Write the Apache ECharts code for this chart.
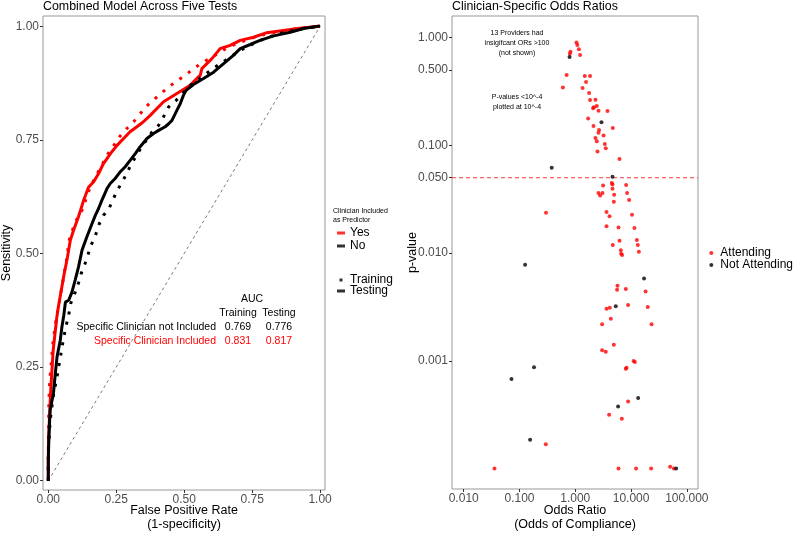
<!DOCTYPE html>
<html>
<head>
<meta charset="utf-8">
<script src="https://cdn.jsdelivr.net/npm/echarts@6/dist/echarts.min.js"></script>
<style>
html,body{margin:0;padding:0;background:#fff;}
#chart{width:799px;height:534px;}
</style>
</head>
<body>
<div id="chart"></div>
<script>
// ---------- Left panel: ROC curves ----------
const yesTestFPR = [0,0,0.001,0.004,0.006,0.009,0.014,0.018,0.024,0.031,0.038,0.046,0.059,0.070,0.081,0.093,0.111,0.130,0.148,0.167,0.185,0.203,0.216,0.234,0.253,0.277,0.301,0.326,0.350,0.375,0.424,0.473,0.522,0.551,0.559,0.565,0.602,0.632,0.669,0.706,0.755,0.804,0.865,0.926,0.994,1];
const yesTestTPR = [0,0.046,0.090,0.134,0.162,0.2,0.248,0.287,0.32,0.358,0.386,0.413,0.457,0.49,0.529,0.551,0.581,0.617,0.646,0.658,0.676,0.698,0.709,0.724,0.738,0.753,0.768,0.779,0.790,0.804,0.834,0.852,0.870,0.888,0.892,0.907,0.929,0.951,0.958,0.969,0.976,0.986,0.991,0.996,1.0,1];

const yesTrainFPR = [0,0,0.001,0.002,0.004,0.007,0.012,0.015,0.020,0.026,0.031,0.039,0.046,0.053,0.059,0.066,0.077,0.099,0.124,0.154,0.185,0.216,0.240,0.262,0.289,0.314,0.336,0.359,0.387,0.418,0.446,0.477,0.507,0.538,0.569,0.602,0.662,0.706,0.779,0.853,0.926,0.994,1];
const yesTrainTPR = [0,0.066,0.116,0.166,0.204,0.233,0.265,0.292,0.318,0.342,0.364,0.386,0.413,0.437,0.459,0.481,0.530,0.569,0.595,0.646,0.681,0.716,0.737,0.757,0.775,0.790,0.806,0.823,0.838,0.854,0.868,0.881,0.894,0.908,0.921,0.932,0.954,0.965,0.980,0.989,0.996,1.0,1];

const noTestFPR = [0,0,0.002,0.005,0.007,0.019,0.026,0.032,0.044,0.050,0.057,0.063,0.075,0.087,0.099,0.111,0.124,0.142,0.161,0.173,0.185,0.197,0.216,0.228,0.246,0.265,0.283,0.301,0.320,0.338,0.363,0.387,0.406,0.430,0.442,0.455,0.473,0.485,0.497,0.507,0.534,0.571,0.608,0.645,0.681,0.706,0.743,0.779,0.829,0.890,0.939,0.994,1];
const noTestTPR = [0,0.046,0.090,0.134,0.156,0.193,0.237,0.272,0.309,0.338,0.364,0.393,0.397,0.415,0.442,0.470,0.507,0.537,0.566,0.584,0.599,0.617,0.643,0.654,0.665,0.680,0.691,0.705,0.720,0.735,0.753,0.764,0.771,0.779,0.785,0.793,0.815,0.829,0.848,0.859,0.872,0.885,0.899,0.918,0.936,0.951,0.960,0.969,0.979,0.987,0.995,1.0,1];

const noTrainFPR = [0,0,0.001,0.004,0.007,0.013,0.019,0.026,0.032,0.038,0.044,0.050,0.057,0.066,0.075,0.083,0.099,0.111,0.121,0.136,0.148,0.158,0.173,0.188,0.203,0.222,0.237,0.252,0.271,0.287,0.301,0.327,0.357,0.381,0.406,0.424,0.442,0.469,0.522,0.559,0.608,0.651,0.706,0.779,0.853,0.926,0.994,1];
const noTrainTPR = [0,0.046,0.075,0.105,0.133,0.162,0.188,0.210,0.228,0.250,0.270,0.292,0.316,0.342,0.365,0.391,0.415,0.435,0.456,0.479,0.501,0.519,0.539,0.566,0.584,0.597,0.617,0.637,0.657,0.674,0.692,0.719,0.746,0.767,0.782,0.801,0.822,0.836,0.870,0.886,0.908,0.925,0.947,0.969,0.985,0.994,1.0,1];

const chanceFPR = [0, 1];
const chanceTPR = [0, 1];

const rocTicks = [0, 0.25, 0.5, 0.75, 1];
const aucHeader = ['AUC', 'Training', 'Testing'];
const aucRowLabels = ['Specific Clinician not Included', 'Specific Clinician Included'];
const aucTraining = ['0.769', '0.831'];
const aucTesting = ['0.776', '0.817'];

// ---------- Right panel: clinician odds ratios ----------
const attendingOR = [1.05,1.09,1.16,0.82,0.80,1.22,
  0.70,1.48,1.84,1.56,0.60,1.35,1.77,1.84,2.30,2.43,2.15,2.09,2.61,3.78,1.70,
  4.71,2.12,2.67,2.61,3.21,2.30,2.43,3.38,3.52,2.50,6.21,
  4.52,4.65,3.15,8.15,4.65,2.61,3.08,2.79,8.49,4.97,4.91,9.23,
  0.299,3.63,4.11,10.4,3.63,5.96,11.5,6.21,12.7,4.71,13.2,6.55,6.64,6.91,13.8,
  5.71,5.62,8.05,18.2,3.63,4.16,8.85,19.9,4.34,3.03,23.3,4.91,3.03,3.52,11.1,11.7,8.05,8.28,
  8.85,4.04,6.83,0.296,
  0.0356,5.96,12.3,22.9,50.1,58.5];
const attendingP = [0.90,0.855,0.78,0.74,0.706,0.69,
  0.45,0.44,0.44,0.386,0.344,0.34,0.305,0.263,0.264,0.232,0.226,0.221,0.209,0.208,0.177,
  0.145,0.151,0.139,0.131,0.123,0.117,0.109,0.103,0.094,0.0876,0.0745,
  0.0446,0.0433,0.0424,0.0428,0.0395,0.036,0.036,0.0342,0.036,0.0347,0.0299,0.031,
  0.0236,0.024,0.022,0.0227,0.0177,0.0173,0.0171,0.013,0.0132,0.0119,0.0119,0.0106,0.00986,0.00958,0.0103,
  0.00498,0.00457,0.00464,0.0044,0.00304,0.00311,0.0033,0.00316,0.00246,0.00218,0.00218,0.00141,0.00125,0.00121,0.000995,0.000975,0.000845,0.000863,
  0.00042,0.000316,0.00029,0.000168,
  0.0001,0.0001,0.0001,0.0001,0.000104,0.0001];

const notAttendingOR = [0.79,2.95,0.378,4.65,0.126,17.1,5.32,0.182,0.0718,13.4,5.86,0.155,64.3];
const notAttendingP = [0.66,0.164,0.0618,0.051,0.00779,0.0058,0.0032,0.000869,0.000678,0.000452,0.000377,0.000185,0.0001];

const orTicks = [0.01, 0.1, 1, 10, 100];
const pTicks = [1, 0.5, 0.1, 0.05, 0.01, 0.001];
const pThreshold = 0.05;

// ---------- build ----------
const zip = (a, b) => a.map((v, i) => [v, b[i]]);
const lg = v => Math.log10(v);
const zipLog = (a, b) => a.map((v, i) => [lg(v), lg(b[i])]);

const OR_AXIS_MIN = -2.21, OR_AXIS_MAX = 2.2;   // log10 extent of the odds-ratio axis
const P_AXIS_MIN = -4.19, P_AXIS_MAX = 0.2;     // log10 extent of the p-value axis

const FONT = '"Liberation Sans", Arial, sans-serif';
const RED = '#FF0000';
const BLACK = '#000000';
const THRESH = '#F23A3A';
const AXIS_LABEL = {fontSize: 12, color: '#4d4d4d', fontFamily: FONT};
const TICK = {length: 3, lineStyle: {color: '#333', width: 1}};
const NAME_STYLE = {fontSize: 12.5, color: '#000', fontFamily: FONT, lineHeight: 14};

const chart = echarts.init(document.getElementById('chart'), null, {renderer: 'canvas'});

const option = {
  backgroundColor: '#fff',
  animation: false,
  textStyle: {fontFamily: FONT},
  title: [
    {text: 'Combined Model Across Five Tests', left: 43, top: 1, padding: 0,
     textStyle: {fontSize: 12.4, fontWeight: 'normal', color: '#000', fontFamily: FONT}},
    {text: 'Clinician-Specific Odds Ratios', left: 452, top: 1, padding: 0,
     textStyle: {fontSize: 12.4, fontWeight: 'normal', color: '#000', fontFamily: FONT}}
  ],
  grid: [
    {left: 43, top: 16, width: 282, height: 474, show: true, borderColor: '#999', borderWidth: 1, outerBoundsMode: 'none', containLabel: false},
    {left: 452, top: 16, width: 246, height: 473, show: true, borderColor: '#999', borderWidth: 1, outerBoundsMode: 'none', containLabel: false}
  ],
  xAxis: [
    {gridIndex: 0, type: 'value', min: -0.0195, max: 1.018,
     axisLine: {show: false, onZero: false}, splitLine: {show: false},
     axisTick: Object.assign({customValues: rocTicks}, TICK),
     axisLabel: Object.assign({customValues: rocTicks, margin: 4, formatter: v => v.toFixed(2)}, AXIS_LABEL),
     name: 'False Positive Rate\n(1-specificity)', nameLocation: 'middle', nameGap: 14, nameMoveOverlap: false, nameTextStyle: NAME_STYLE},
    {gridIndex: 1, type: 'value', min: OR_AXIS_MIN, max: OR_AXIS_MAX,
     axisLine: {show: false, onZero: false}, splitLine: {show: false},
     axisTick: Object.assign({customValues: orTicks.map(lg)}, TICK),
     axisLabel: Object.assign({customValues: orTicks.map(lg), margin: 4, formatter: v => Math.pow(10, v).toFixed(3)}, AXIS_LABEL),
     name: 'Odds Ratio\n(Odds of Compliance)', nameLocation: 'middle', nameGap: 15, nameMoveOverlap: false, nameTextStyle: NAME_STYLE}
  ],
  yAxis: [
    {gridIndex: 0, type: 'value', min: -0.0205, max: 1.0227,
     axisLine: {show: false, onZero: false}, splitLine: {show: false},
     axisTick: Object.assign({customValues: rocTicks}, TICK),
     axisLabel: Object.assign({customValues: rocTicks, margin: 4, formatter: v => v.toFixed(2)}, AXIS_LABEL),
     name: 'Sensitivity', nameLocation: 'middle', nameGap: 29, nameMoveOverlap: false, nameTextStyle: NAME_STYLE},
    {gridIndex: 1, type: 'value', min: P_AXIS_MIN, max: P_AXIS_MAX,
     axisLine: {show: false, onZero: false}, splitLine: {show: false},
     axisTick: Object.assign({customValues: pTicks.map(lg)}, TICK),
     axisLabel: Object.assign({customValues: pTicks.map(lg), margin: 4, formatter: v => Math.pow(10, v).toFixed(3)}, AXIS_LABEL),
     name: 'p-value', nameLocation: 'middle', nameGap: 32, nameMoveOverlap: false, nameTextStyle: NAME_STYLE}
  ],
  legend: [
    {data: ['Yes', 'No'], orient: 'vertical', left: 337, top: 227, padding: 0, itemGap: 1,
     icon: 'rect', itemWidth: 8, itemHeight: 3, selectedMode: false,
     textStyle: {fontSize: 12, color: '#000', fontFamily: FONT}},
    {data: [{name: 'Training', icon: 'path://M0,0h1v1h-1z'}, {name: 'Testing', icon: 'rect'}],
     orient: 'vertical', left: 337, top: 274, padding: 0, itemGap: -1,
     itemWidth: 8, itemHeight: 3, selectedMode: false,
     textStyle: {fontSize: 12, color: '#000', fontFamily: FONT}},
    {data: ['Attending', 'Not Attending'], orient: 'vertical', left: 709.3, top: 247, padding: 0, itemGap: 0,
     icon: 'circle', itemWidth: 8, itemHeight: 4, selectedMode: false,
     textStyle: {fontSize: 12, color: '#000', fontFamily: FONT}}
  ],
  graphic: [
    {type: 'text', left: 333, top: 207, style: {text: 'Clinician Included\nas Predictor', font: '7px ' + FONT, fill: '#000', lineHeight: 9}},
    // AUC table
    {type: 'text', x: 252, y: 299, style: {text: aucHeader[0], font: '10.5px ' + FONT, fill: '#000', align: 'center', verticalAlign: 'middle'}},
    {type: 'text', x: 238, y: 313, style: {text: aucHeader[1], font: '10.5px ' + FONT, fill: '#000', align: 'center', verticalAlign: 'middle'}},
    {type: 'text', x: 279, y: 313, style: {text: aucHeader[2], font: '10.5px ' + FONT, fill: '#000', align: 'center', verticalAlign: 'middle'}},
    {type: 'text', x: 216, y: 327, style: {text: aucRowLabels[0], font: '10.5px ' + FONT, fill: '#000', align: 'right', verticalAlign: 'middle'}},
    {type: 'text', x: 238, y: 327, style: {text: aucTraining[0], font: '10.5px ' + FONT, fill: '#000', align: 'center', verticalAlign: 'middle'}},
    {type: 'text', x: 279, y: 327, style: {text: aucTesting[0], font: '10.5px ' + FONT, fill: '#000', align: 'center', verticalAlign: 'middle'}},
    {type: 'text', x: 216, y: 341, style: {text: aucRowLabels[1], font: '10.5px ' + FONT, fill: RED, align: 'right', verticalAlign: 'middle'}},
    {type: 'text', x: 238, y: 341, style: {text: aucTraining[1], font: '10.5px ' + FONT, fill: RED, align: 'center', verticalAlign: 'middle'}},
    {type: 'text', x: 279, y: 341, style: {text: aucTesting[1], font: '10.5px ' + FONT, fill: RED, align: 'center', verticalAlign: 'middle'}},
    // right annotations
    {type: 'text', x: 517, y: 43, style: {text: '13 Providers had\ninsigifcant ORs >100\n(not shown)', font: '7px ' + FONT, fill: '#000', align: 'center', verticalAlign: 'middle', lineHeight: 9.7}},
    {type: 'text', x: 517, y: 102, style: {text: 'P-values <10^-4\nplotted at 10^-4', font: '7px ' + FONT, fill: '#000', align: 'center', verticalAlign: 'middle', lineHeight: 10}}
  ],
  series: [
    {type: 'line', name: 'chance', xAxisIndex: 0, yAxisIndex: 0, data: zip(chanceFPR, chanceTPR),
     showSymbol: false, silent: true, lineStyle: {color: '#444', width: 0.7, type: [3, 3]}, z: 1},
    {type: 'line', name: 'Yes Testing', xAxisIndex: 0, yAxisIndex: 0, data: zip(yesTestFPR, yesTestTPR),
     showSymbol: false, lineStyle: {color: RED, width: 3}, z: 2},
    {type: 'line', name: 'Yes Training', xAxisIndex: 0, yAxisIndex: 0, data: zip(yesTrainFPR, yesTrainTPR),
     showSymbol: false, lineStyle: {color: RED, width: 3, type: [3, 7.5], cap: 'butt'}, z: 3},
    {type: 'line', name: 'No Testing', xAxisIndex: 0, yAxisIndex: 0, data: zip(noTestFPR, noTestTPR),
     showSymbol: false, lineStyle: {color: BLACK, width: 3}, z: 4},
    {type: 'line', name: 'No Training', xAxisIndex: 0, yAxisIndex: 0, data: zip(noTrainFPR, noTrainTPR),
     showSymbol: false, lineStyle: {color: BLACK, width: 3, type: [3, 7.5], cap: 'butt'}, z: 5},
    // legend-only series
    {type: 'scatter', name: 'Yes', xAxisIndex: 0, yAxisIndex: 0, data: [], itemStyle: {color: RED}},
    {type: 'scatter', name: 'No', xAxisIndex: 0, yAxisIndex: 0, data: [], itemStyle: {color: BLACK}},
    {type: 'scatter', name: 'Training', xAxisIndex: 0, yAxisIndex: 0, data: [], itemStyle: {color: BLACK}},
    {type: 'scatter', name: 'Testing', xAxisIndex: 0, yAxisIndex: 0, data: [], itemStyle: {color: BLACK}},
    // right panel: p = 0.05 reference line across the panel
    {type: 'line', name: 'threshold', xAxisIndex: 1, yAxisIndex: 1,
     data: [[OR_AXIS_MIN, lg(pThreshold)], [OR_AXIS_MAX, lg(pThreshold)]],
     showSymbol: false, silent: true, lineStyle: {color: THRESH, width: 1.1, type: [4, 3]}, z: 1},
    {type: 'scatter', name: 'Attending', xAxisIndex: 1, yAxisIndex: 1, data: zipLog(attendingOR, attendingP),
     symbolSize: 4, itemStyle: {color: RED}, z: 3},
    {type: 'scatter', name: 'Not Attending', xAxisIndex: 1, yAxisIndex: 1, data: zipLog(notAttendingOR, notAttendingP),
     symbolSize: 4, itemStyle: {color: BLACK}, z: 4}
  ]
};
chart.setOption(option);
</script>
</body>
</html>
